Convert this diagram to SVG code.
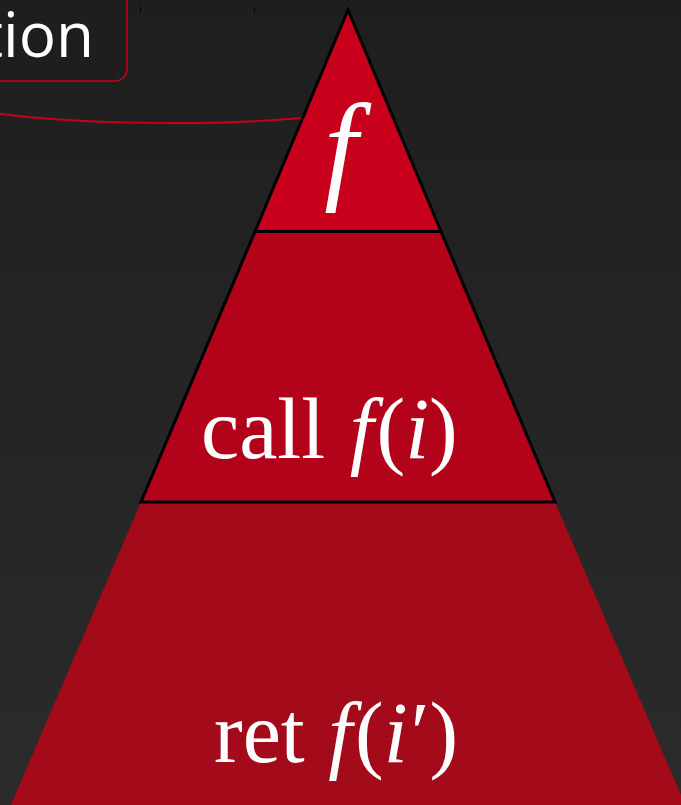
<svg xmlns="http://www.w3.org/2000/svg" width="681" height="805" viewBox="0 0 681 805">
  <defs>
    <linearGradient id="bg" x1="0" y1="0" x2="0" y2="1">
      <stop offset="0" stop-color="#1e1e1e"/>
      <stop offset="1" stop-color="#2b2b2b"/>
    </linearGradient>
    <style>
      .edge { stroke: #000; stroke-width: 3; stroke-linejoin: miter; }
      .math { font-family: "Liberation Serif", "Times New Roman", serif; fill: #fff; }
      .it { font-style: italic; }
      .conn { fill: none; stroke: #c8001a; stroke-width: 2; }
      .tick { stroke: #000; stroke-width: 1; }
    </style>
  </defs>
  <rect x="0" y="0" width="681" height="805" fill="url(#bg)"/>
  <g id="ticks">
    <line class="tick" x1="140.5" y1="7" x2="140.5" y2="12"/>
    <line class="tick" x1="254.5" y1="7" x2="254.5" y2="12"/>
  </g>
  <g id="connectors">
    <path class="conn" d="M -5 113 C 60 123, 200 127, 302 118"/>
  </g>
  <g id="label">
    <rect x="-30" y="-30" width="157" height="111" rx="12" fill="#1e1e1e" stroke="#c8001a" stroke-width="1.5"/>
    <text x="-19" y="57" font-family="'Open Sans', 'Noto Sans', sans-serif" font-size="62" fill="#fff">tion</text>
  </g>
  <g id="tier-bottom">
    <polygon points="141,502 555,502 696,830 0,830" fill="#a30a1a"/>
    <text class="math" x="214" y="762" font-size="86">ret <tspan class="it" dx="2">f</tspan><tspan dx="3">(</tspan><tspan class="it">i</tspan><tspan dx="3">′</tspan>)</text>
  </g>
  <g id="tier-middle">
    <polygon points="255,231.5 441,231.5 555,502 141,502" fill="#b3031a"/>
    <polyline class="edge" fill="none" points="255,231.5 141,502 555,502 441,231.5"/>
    <text class="math" x="201" y="458" font-size="86">call <tspan class="it" dx="3">f</tspan><tspan dx="3">(</tspan><tspan class="it">i</tspan>)</text>
  </g>
  <g id="tier-top">
    <polygon class="edge" points="348,10 441,231.5 255,231.5" fill="#c8001b"/>
    <text class="math it" x="341" y="187" font-size="120" text-anchor="middle">f</text>
  </g>
</svg>
